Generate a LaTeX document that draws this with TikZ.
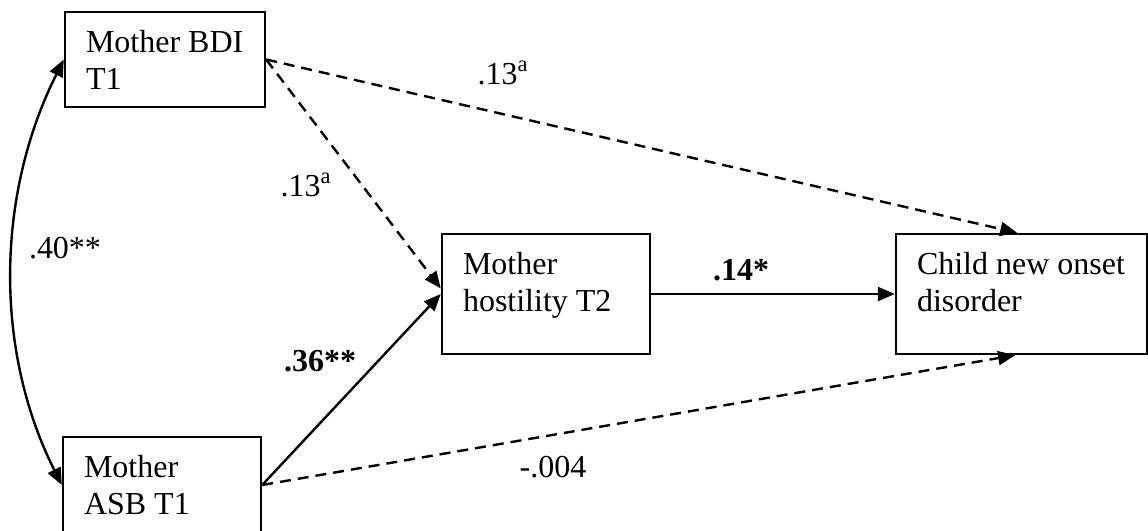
\documentclass[tikz,border=0pt]{standalone}
\usepackage{fontspec}
\setmainfont{Liberation Serif}
\usetikzlibrary{arrows.meta,calc}
\newcommand{\valtszoveg}[3]{\parbox[c][#2][t]{#1}{\vspace*{9pt}\raggedright\leftskip=10.5pt\relax #3}}
\tikzset{
  valt/.style={draw,line width=1.2pt,inner sep=0pt},
  ut/.style={line width=1.2pt,-{Triangle[length=8.5pt,width=7pt]}},
  nsut/.style={ut,dash pattern=on 5.5pt off 3.5pt},
  kor/.style={line width=1.2pt,{Triangle[length=8.5pt,width=7pt]}-{Triangle[length=8.5pt,width=7pt]}},
  egyutth/.style={inner sep=0pt},
  egyutthb/.style={inner sep=0pt,font=\fontsize{16}{18.5}\selectfont\bfseries},
}

\begin{document}
\begin{tikzpicture}[x=0.5pt,y=-0.5pt,font=\fontsize{16}{18.5}\selectfont]
  \useasboundingbox (0,0) rectangle (1148,531);
  % variables
  \node[valt] (bdi) at (165,59.5) {\valtszoveg{100pt}{47.5pt}{Mother BDI\\T1}};
  \node[valt] (asb) at (162,485) {\valtszoveg{99pt}{48pt}{Mother\\ASB T1}};
  \node[valt] (host) at (546,294) {\valtszoveg{104pt}{60pt}{Mother\\hostility T2}};
  \node[valt] (child) at (1021.5,294) {\valtszoveg{125.5pt}{60pt}{Child new onset\\disorder}};
  % paths
  \draw[nsut] (bdi.east) -- (child.94);
  \draw[nsut] (bdi.east) -- (host.177);
  \draw[ut] (asb.east) -- (host.west);
  \draw[nsut] (asb.east) -- (child.264);
  \draw[ut] (host.east) -- (child.west);
  \coordinate (kc1) at (-4,195);
  \coordinate (kc2) at (-6,350);
  \draw[kor] (bdi.west) .. controls (kc1) and (kc2) .. (asb.west);
  % coefficients
  \node[egyutth] (e1) at (503,73) {.13\textsuperscript{a}};
  \node[egyutth] (e2) at (306,185) {.13\textsuperscript{a}};
  \node[egyutth] (e3) at (65,248) {.40**};
  \node[egyutthb] (e4) at (741,270) {.14*};
  \node[egyutthb] (e5) at (320,361) {.36**};
  \node[egyutth] (e6) at (553,467) {-.004};
\end{tikzpicture}
\end{document}
